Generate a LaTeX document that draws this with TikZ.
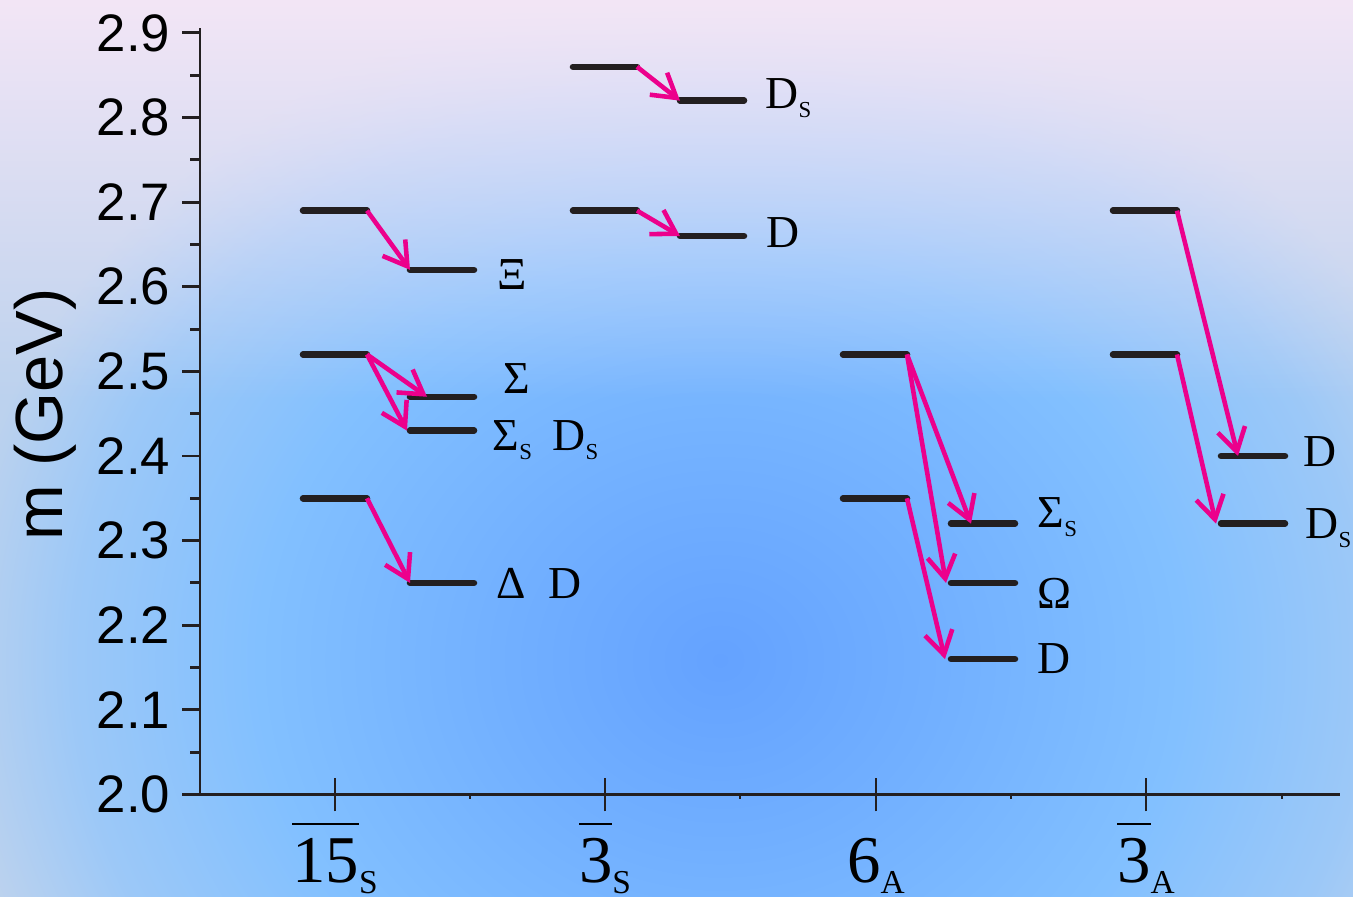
\documentclass[tikz,border=0pt]{standalone}
\usepackage{fontspec}
\setmainfont{Liberation Serif}
\setsansfont{Liberation Sans}
\usetikzlibrary{arrows.meta, fadings}
\definecolor{levelblack}{RGB}{35, 31, 32}
\definecolor{decaypink}{RGB}{236, 0, 140}
\definecolor{bgdeep}{RGB}{100, 162, 255}
\definecolor{bgsky}{RGB}{130, 192, 255}
\definecolor{bgpale}{RGB}{188, 210, 238}
\definecolor{bglilac}{RGB}{243, 230, 246}
\pgfdeclareradialshading{bgglow}{\pgfpoint{0bp}{0bp}}{color(0bp)=(bgdeep); color(7bp)=(bgdeep!55!bgsky); color(15bp)=(bgsky); color(21bp)=(bgsky!55!bgpale); color(25bp)=(bgpale); color(50bp)=(bgpale)}
\tikzfading[name=fadetop, top color=transparent!0, bottom color=transparent!100]
\def\level#1#2#3{
    \draw[levelline] (#2, #3) -- (#2+64, #3);
    \coordinate (#1-w) at (#2, #3);
    \coordinate (#1-e) at (#2+64, #3);
}
\newcommand{\lsub}[1]{\raisebox{-0.2em}{\fontsize{6.5}{6.5}\selectfont #1}}
\newcommand{\xsub}[1]{\raisebox{-0.17em}{\fontsize{9.5}{9.5}\selectfont #1}}
\newcommand{\xbar}[1]{$\overline{\mbox{\rule{0pt}{0.8em}#1}}$}

\begin{document}
\begin{tikzpicture}[x=0.01cm, y=8.456cm]
\tikzset{levelline/.style={levelblack, line width=1.85pt, line cap=round},
    decay/.style={decaypink, line width=1.3pt, -{Straight Barb[length=2.3mm, width=2.8mm]}},
    axisline/.style={levelblack, line width=0.85pt},
    ticklabel/.style={font=\sffamily\fontsize{15}{15}\selectfont, anchor=east, inner sep=0},
    statelabel/.style={font=\fontsize{13}{13}\selectfont, anchor=base west, inner sep=0},
    replabel/.style={font=\fontsize{19}{19}\selectfont, anchor=base, inner sep=0}}

\useasboundingbox (0, 1.8794) rectangle (1353, 2.9390);

% background
\begin{scope}
    \clip (0, 1.8794) rectangle (1353, 2.9390);
    \fill[bgpale] (0, 1.8794) rectangle (1353, 2.9390);
    \shade[shading=bgglow] (720, 2.1585) ellipse (7.7cm and 6.8cm);
    \fill[bglilac, path fading=fadetop] (0, 2.466) rectangle (1353, 2.9390);
\end{scope}

% axes
\draw[axisline] (200, 2.0) -- (200, 2.906);
\draw[axisline] (182, 2.0) -- (1340, 2.0);
\foreach \k in {0,...,9} {
    \draw[axisline] (182, 2+\k/10) -- (200, 2+\k/10);
    \node[ticklabel] (ytick\k) at (171, 2+\k/10) {2.\k};
}
\foreach \k in {0,...,8} \draw[axisline] (190, 2.05+\k/10) -- (200, 2.05+\k/10);
\foreach \x in {335, 605, 876, 1146} \draw[axisline] (\x, 1.98) -- (\x, 2.02);
\foreach \x in {470, 740, 1011, 1282} \draw[axisline] (\x, 2.0) -- (\x, 1.995);

\node[font=\sffamily\fontsize{19}{19}\selectfont, rotate=90, inner sep=0] (ylab) at (45, 2.449) {m (GeV)};

\node[replabel] (rep15S) at (335, 1.896) {\xbar{15}\xsub{S}};
\node[replabel] (rep3S) at (605, 1.896) {\xbar{3}\xsub{S}};
\node[replabel] (rep6A) at (876, 1.896) {6\xsub{A}};
\node[replabel] (rep3A) at (1146, 1.896) {\xbar{3}\xsub{A}};

% levels
\level{a15t}{303}{2.69}
\level{a15m}{303}{2.52}
\level{a15b}{303}{2.35}
\level{Xi}{410}{2.62}
\level{Sig}{410}{2.47}
\level{SigS}{410}{2.43}
\level{DelD}{410}{2.25}

\level{a3t}{573}{2.86}
\level{a3b}{573}{2.69}
\level{Ds3}{680}{2.82}
\level{D3}{680}{2.66}

\level{a6t}{843}{2.52}
\level{a6b}{843}{2.35}
\level{SigS6}{951}{2.32}
\level{Om6}{951}{2.25}
\level{D6}{951}{2.16}

\level{b3t}{1113}{2.69}
\level{b3b}{1113}{2.52}
\level{D3A}{1221}{2.40}
\level{Ds3A}{1221}{2.32}

% decays
\draw[decay] (a15t-e) -- (Xi-w);
\draw[decay] (a15m-e) -- ([xshift=0.17cm]Sig-w);
\draw[decay] (a15m-e) -- ([xshift=-0.03cm]SigS-w);
\draw[decay] (a15b-e) -- (DelD-w);
\draw[decay] (a3t-e) -- (Ds3-w);
\draw[decay] (a3b-e) -- (D3-w);
\draw[decay] (a6t-e) -- ([xshift=0.2cm]SigS6-w);
\draw[decay] (a6t-e) -- ([xshift=-0.05cm]Om6-w);
\draw[decay] (a6b-e) -- ([xshift=-0.06cm]D6-w);
\draw[decay] (b3t-e) -- ([xshift=0.17cm]D3A-w);
\draw[decay] (b3b-e) -- ([xshift=-0.05cm]Ds3A-w);

\node[statelabel] (lXi) at (497, 2.597) {Ξ};
\node[statelabel] (lSig) at (503, 2.474) {Σ};
\node[statelabel] (lSigS) at (492, 2.407) {Σ\lsub{S}\hspace{0.45em}D\lsub{S}};
\node[statelabel] (lDel) at (496, 2.231) {Δ\hspace{0.5em}D};
\node[statelabel] (lDs3) at (765, 2.811) {D\lsub{S}};
\node[statelabel] (lD3) at (766, 2.646) {D};
\node[statelabel] (lSigS6) at (1037, 2.316) {Σ\lsub{S}};
\node[statelabel] (lOm6) at (1037, 2.220) {Ω};
\node[statelabel] (lD6) at (1037, 2.143) {D};
\node[statelabel] (lD3A) at (1303, 2.387) {D};
\node[statelabel] (lDs3A) at (1305, 2.303) {D\lsub{S}};
\end{tikzpicture}
\end{document}
